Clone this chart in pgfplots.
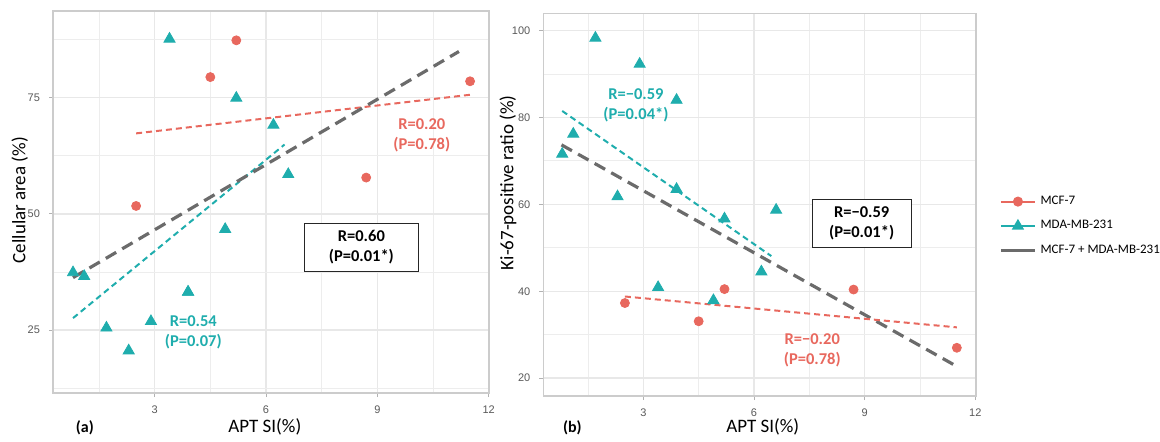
\documentclass[border=0pt]{standalone}
\usepackage{fontspec}
\setmainfont{Carlito}
\newfontfamily\tickfont{Liberation Sans}
\usepackage{pgfplots}
\pgfplotsset{compat=1.18}

\definecolor{mcf}{HTML}{E8685E}
\definecolor{mda}{HTML}{1FADAD}
\definecolor{comb}{HTML}{6B6B6B}
\definecolor{gridc}{HTML}{E8E8E8}

\newcommand{\annfont}{\fontsize{8.25}{10}\selectfont\bfseries}

\pgfplotsset{
  panel/.style={
    scale only axis,
    xtick={3,6,9,12}, minor xtick={1.5,4.5,7.5,10.5},
    grid=both,
    major grid style={gridc, line width=0.7pt},
    minor grid style={gridc!80, line width=0.45pt},
    axis line style={gray!40, line width=0.6pt},
    tick align=outside, tick pos=left,
    major tick length=2pt, minor tick length=0pt,
    tick style={gray!60, line width=0.4pt},
    tick label style={font=\tickfont\fontsize{5.5}{6}\selectfont, text=black!65},
    /pgf/number format/assume math mode=true,
    xticklabel style={yshift=-1pt},
    yticklabel style={xshift=-1pt},
    label style={font=\fontsize{9.5}{11}\selectfont},
    xlabel={APT SI(\%)},
  },
  pts/.style={only marks, mark size=2.25pt, forget plot},
  fitc/.style={line width=1pt, dash pattern=on 3pt off 2pt, forget plot},
  fitg/.style={comb, line width=1.6pt, dash pattern=on 6pt off 3.5pt, forget plot},
}

\begin{document}
\begin{tikzpicture}
\useasboundingbox (0,0) rectangle (580pt,220.5pt);

% (a) cellular area
\begin{axis}[panel,
  at={(26.5pt,24pt)}, anchor=south west,
  width=218pt, height=191pt,
  xmin=0.26, xmax=12.01, ymin=11.5, ymax=93.6,
  ytick={25,50,75}, minor ytick={12.5,37.5,62.5,87.5},
  ylabel={Cellular area (\%)},
  xlabel style={at={(axis description cs:0.486,-0.089)}, anchor=center},
  ylabel style={at={(axis description cs:-0.076,0.505)}, anchor=center},
  extra description/.code={\node[font=\fontsize{8}{10}\selectfont\bfseries] at (0.073,-0.092) {(a)};},
]
\addplot[pts, mark=*, color=mcf] coordinates {
  (2.5,51.7) (4.5,79.4) (5.2,87.3) (8.7,57.8) (11.5,78.5)};
\addplot[pts, mark=triangle*, mark size=3.2pt, color=mda] coordinates {
  (0.8,37.4) (1.1,36.6) (1.7,25.5) (2.3,20.6) (2.9,26.9) (3.4,87.6)
  (3.9,33.2) (3.9,33.2) (4.9,46.7) (5.2,74.9) (6.2,69.1) (6.6,58.5)};
\addplot[fitc, mcf] coordinates {(2.5,67.3) (11.5,75.6)};
\addplot[fitc, mda] coordinates {(0.8,27.6) (6.5,64.9)};
\addplot[fitg] coordinates {(0.8,36.3) (11.2,84.9)};
\node[font=\annfont, text=mcf, align=center] at (axis cs:10.2,66.8) {R=0.20\\(P=0.78)};
\node[font=\annfont, text=mda, align=center] at (axis cs:4.04,24.5) {R=0.54\\(P=0.07)};
\node[font=\annfont, align=center, draw=black!85, line width=0.6pt, fill=white,
  minimum width=57pt, minimum height=24pt, inner sep=1pt] at (axis cs:8.57,42.8) {R=0.60\\(P=0.01*)};
\end{axis}

% (b) Ki-67
\begin{axis}[panel,
  at={(271.7pt,22.5pt)}, anchor=south west,
  width=216.3pt, height=191.4pt,
  xmin=0.29, xmax=12.02, ymin=15.9, ymax=104,
  ytick={20,40,60,80,100}, minor ytick={30,50,70,90},
  ylabel={Ki-67-positive ratio (\%)},
  xlabel style={at={(axis description cs:0.507,-0.081)}, anchor=center},
  ylabel style={at={(axis description cs:-0.082,0.557)}, anchor=center},
  extra description/.code={\node[font=\fontsize{8}{10}\selectfont\bfseries] at (0.067,-0.084) {(b)};},
  legend style={at={(1.039,0.444)}, anchor=west, draw=none, fill=none,
    font=\fontsize{6.5}{8}\selectfont, row sep=2.5pt, legend cell align=left,
    /tikz/every even column/.append style={column sep=2pt}},
]
\addplot[pts, mark=*, color=mcf] coordinates {
  (2.5,37.3) (4.5,33.1) (5.2,40.5) (8.7,40.4) (11.5,27.0)};
\addplot[pts, mark=triangle*, mark size=3.2pt, color=mda] coordinates {
  (0.8,71.6) (1.1,76.2) (1.7,98.3) (2.3,61.8) (2.9,92.3) (3.4,40.9)
  (3.9,84.0) (3.9,63.5) (4.9,37.9) (5.2,56.7) (6.2,44.5) (6.6,58.7)};
\addplot[fitc, mda] coordinates {(0.8,81.5) (6.47,48.1)};
\addplot[fitg] coordinates {(0.78,73.7) (11.42,23.1)};
\addplot[fitc, mcf] coordinates {(2.5,38.8) (11.5,31.7)};
\node[font=\annfont, text=mda, align=center] at (axis cs:2.8,82.7) {R=\textminus0.59\\(P=0.04*)};
\node[font=\annfont, text=mcf, align=center] at (axis cs:7.58,26.5) {R=\textminus0.20\\(P=0.78)};
\node[font=\annfont, align=center, draw=black!85, line width=0.6pt, fill=white,
  minimum width=49.5pt, minimum height=24pt, inner sep=1pt] at (axis cs:8.92,55.6) {R=\textminus0.59\\(P=0.01*)};
\addlegendimage{mcf, mark=*, mark size=2pt, line width=1pt}
\addlegendentry{MCF-7}
\addlegendimage{mda, mark=triangle*, mark size=2.6pt, line width=1pt}
\addlegendentry{MDA-MB-231}
\addlegendimage{comb, line width=1.6pt}
\addlegendentry{MCF-7 + MDA-MB-231}
\end{axis}
\end{tikzpicture}
\end{document}
